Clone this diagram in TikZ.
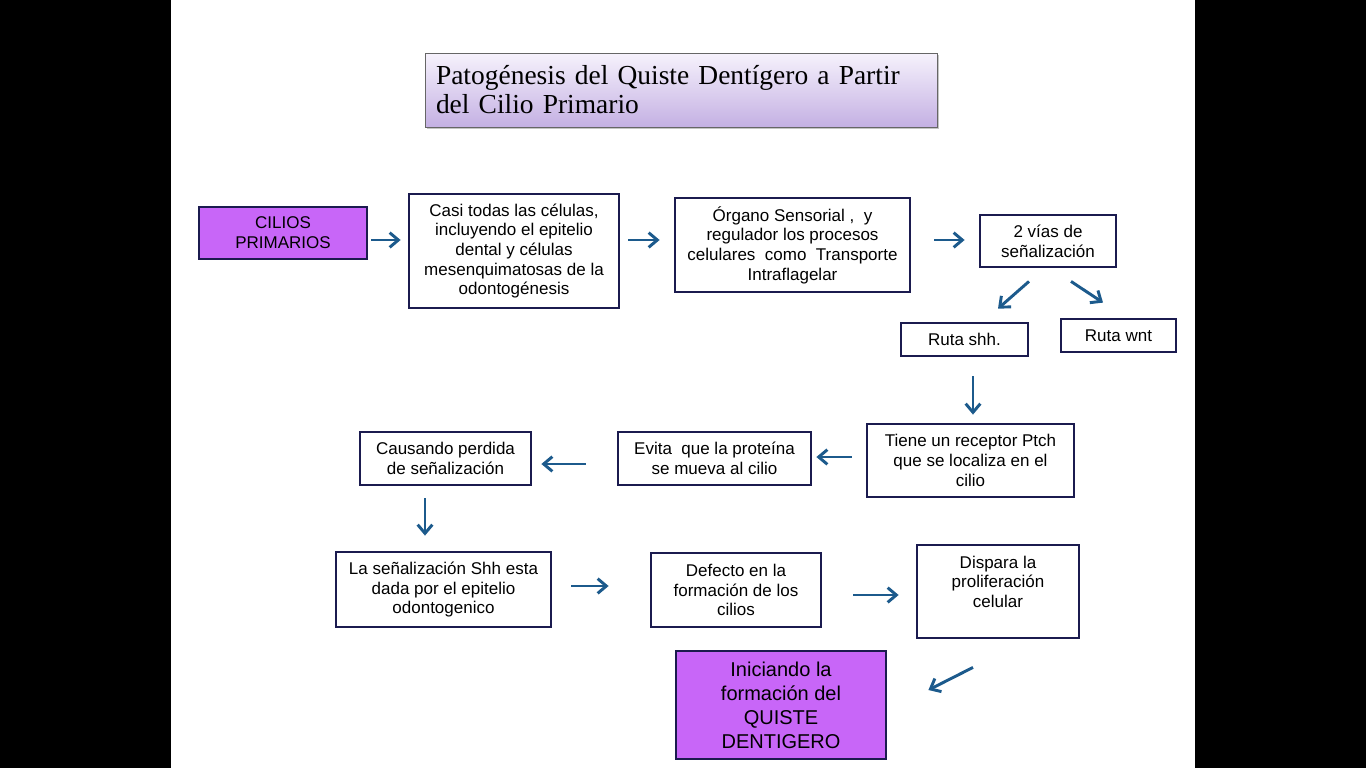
\documentclass[tikz,border=0pt]{standalone}
\usepackage{fontspec}
\setsansfont{Liberation Sans}
\newfontfamily\serifa{Liberation Serif}
\usetikzlibrary{shapes,arrows.meta,positioning,calc,shadows}
\definecolor{azuloscuro}{HTML}{1B1B4F}
\definecolor{azulflecha}{HTML}{1C5A8C}
\definecolor{morado}{HTML}{C866F8}
\definecolor{lilaclaro}{HTML}{F6F2FC}
\definecolor{lilaoscuro}{HTML}{C4B0E3}

\begin{document}
\begin{tikzpicture}[x=0.75pt, y=-0.75pt,
    caja/.style={rectangle, draw=azuloscuro, line width=2.1pt, fill=white, align=center,
        font=\sffamily\fontsize{12.75}{14.8}\selectfont, inner sep=2pt},
    cajamorada/.style={caja, fill=morado},
    tam/.style 2 args={minimum width=#1*0.75pt, minimum height=#2*0.75pt},
    flecha/.style={draw=azulflecha, line width=2.2pt,
        -{Straight Barb[length=6.5pt,width=11pt,line width=2.2pt]}},
    titulo/.style={rectangle, draw=gray!80!black, line width=0.7pt, top color=lilaclaro,
        bottom color=lilaoscuro, drop shadow={shadow xshift=1.5pt, shadow yshift=-1.5pt, opacity=0.45},
        text width=367.5pt, align=left, inner xsep=8.25pt,
        font=\serifa\fontsize{20.6}{21.75}\selectfont}]
    \useasboundingbox (0,0) rectangle (1366,768);
    \fill[white] (0,0) rectangle (1366,768);
    \fill[black] (0,0) rectangle (171,768);
    \fill[black] (1195,0) rectangle (1366,768);

    \node[titulo, tam={512}{74}] (titulo) at (681,90) {Patogénesis del Quiste Dentígero a Partir\\del Cilio Primario};

    \node[cajamorada, tam={168}{52}] (cilios) at (283,233) {CILIOS\\PRIMARIOS};
    \node[caja, tam={210}{114}] (casi) at (514,251) {Casi todas las células,\\incluyendo el epitelio\\dental y células\\mesenquimatosas de la\\odontogénesis};
    \node[caja, tam={235}{94}] (organo) at (792.5,245) {Órgano Sensorial ,\ \ y\\regulador los procesos\\celulares\ \ como\ \ Transporte\\Intraflagelar};
    \node[caja, tam={136}{52}] (vias) at (1048,241) {2 vías de\\señalización};
    \node[caja, tam={127}{33}] (shh) at (964.5,339.5) {Ruta shh.};
    \node[caja, tam={115}{33}] (wnt) at (1118.5,335.5) {Ruta wnt};
    \node[caja, tam={207}{73}] (ptch) at (970.5,460.5) {Tiene un receptor Ptch\\que se localiza en el\\cilio};
    \node[caja, tam={193}{53}] (evita) at (714.5,458.5) {Evita\ \ que la proteína\\se mueva al cilio};
    \node[caja, tam={171}{53}] (causando) at (445.5,458.5) {Causando perdida\\de señalización};
    \node[caja, tam={215}{75}] (senal) at (443.5,589.5) {La señalización Shh esta\\dada por el epitelio\\odontogenico};
    \node[caja, tam={170}{74}] (defecto) at (736,590) {Defecto en la\\formación de los\\cilios};
    \node[caja, tam={162}{93}] (dispara) at (998,591.5) {Dispara la\\proliferación\\celular\\\mbox{}};
    \node[cajamorada, tam={210}{108}, font=\sffamily\fontsize{15}{18}\selectfont] (iniciando) at (781,705) {Iniciando la\\formación del\\QUISTE\\DENTIGERO};

    \draw[flecha] ($(cilios.east)+(3,7)$) -- ($(casi.west)+(-7,-11)$);
    \draw[flecha] ($(casi.east)+(8,-11)$) -- ($(organo.west)+(-14,-5)$);
    \draw[flecha] ($(organo.east)+(23,-5)$) -- ($(vias.west)+(-14,-1)$);
    \draw[flecha] ($(vias.south)+(-19,13)$) -- ($(shh.north)+(33.5,-13)$);
    \draw[flecha] ($(vias.south)+(23,13)$) -- ($(wnt.north)+(-15.5,-15)$);
    \draw[flecha] ($(shh.south)+(8.5,19)$) -- ($(ptch.north)+(2.5,-8)$);
    \draw[flecha] ($(ptch.west)+(-14,-3.5)$) -- ($(evita.east)+(4,-1.5)$);
    \draw[flecha] ($(evita.west)+(-31,5.5)$) -- ($(causando.east)+(9,5.5)$);
    \draw[flecha] ($(causando.south)+(-20.5,12)$) -- ($(senal.north)+(-18.5,-15)$);
    \draw[flecha] ($(senal.east)+(19,-3.5)$) -- ($(defecto.west)+(-41,-4)$);
    \draw[flecha] ($(defecto.east)+(31,5)$) -- ($(dispara.west)+(-17,3.5)$);
    \draw[flecha] ($(dispara.south)+(-25,28)$) -- ($(iniciando.east)+(41,-15)$);
\end{tikzpicture}
\end{document}
